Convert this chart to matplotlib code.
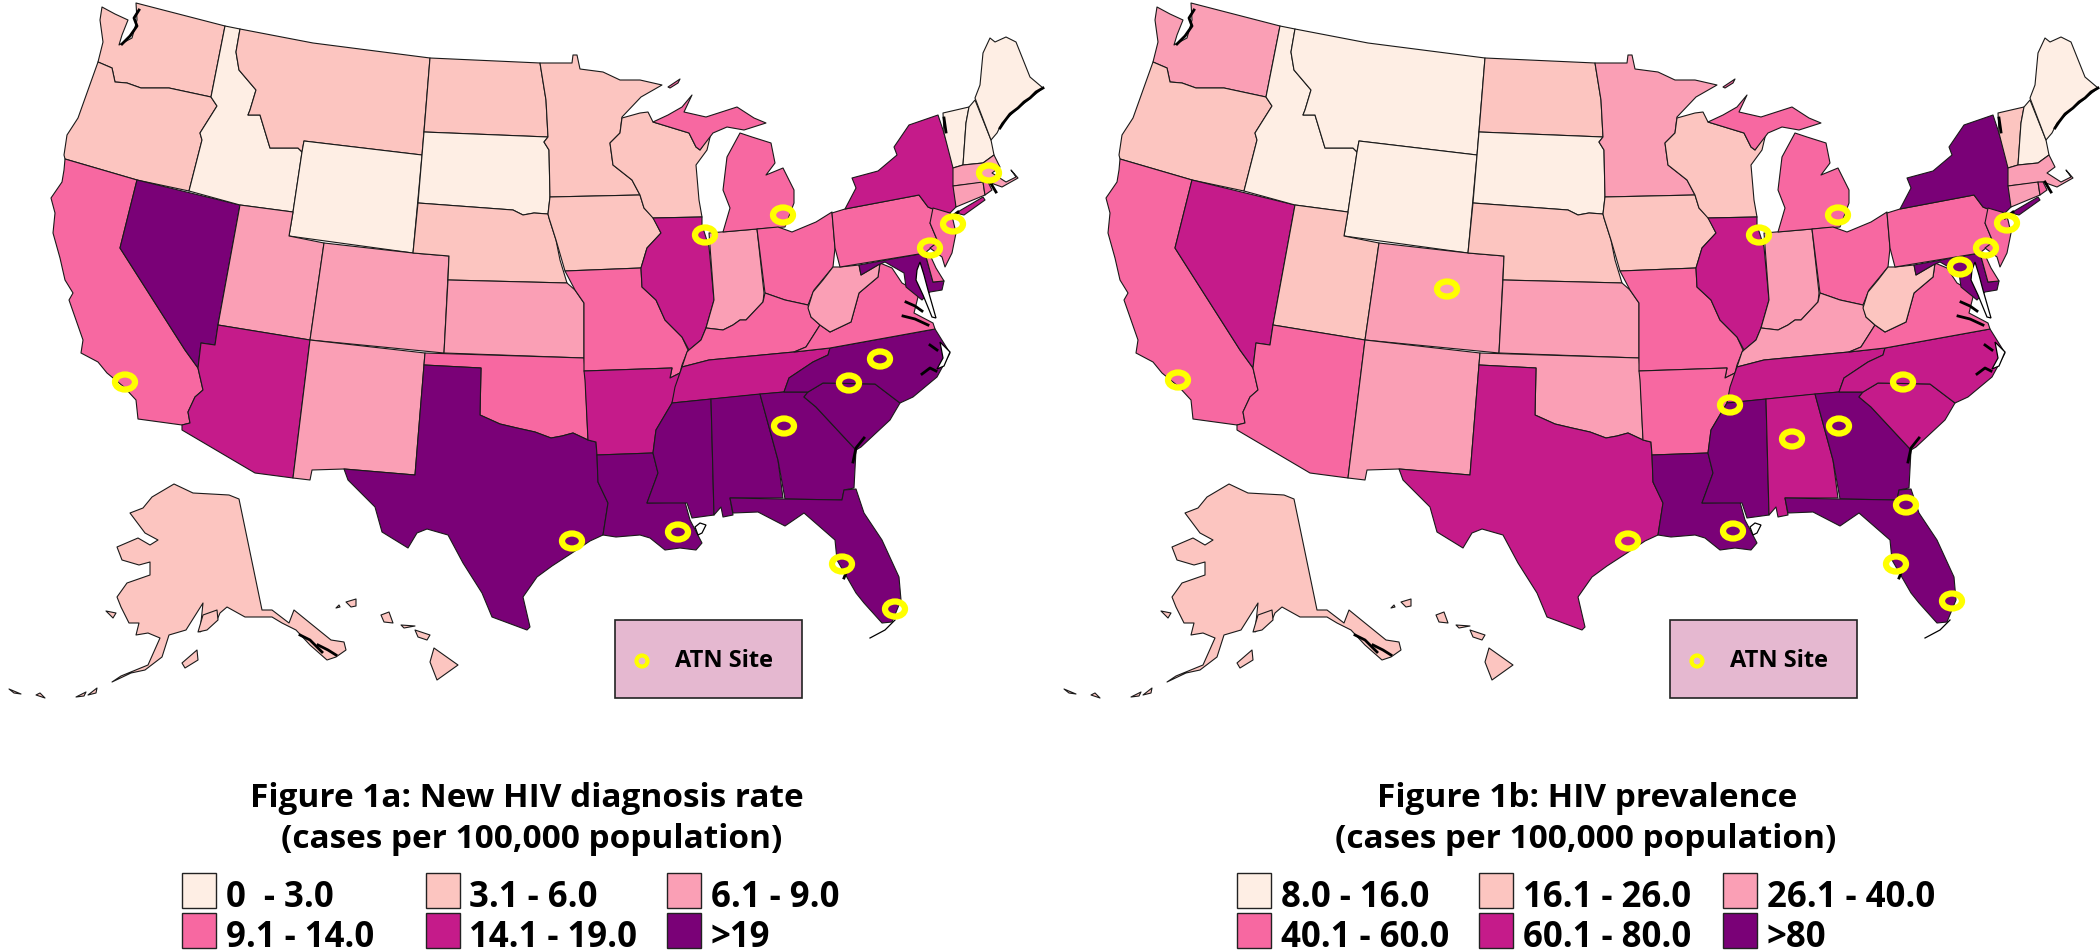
import matplotlib
matplotlib.use("Agg")
import matplotlib.pyplot as plt
from matplotlib.patches import Polygon, Rectangle, Ellipse

# RdPu style classes used by both maps
class_colors = ["#FEEEE4", "#FCC5C0", "#FA9FB5", "#F768A1", "#C51B8A", "#7A0177"]

# State outlines in picture pixels
WA = [(102,7),(115,14),(128,20),(122,35),(119,45),(132,38),(137,20),(136,3),(225,26),(211,97),(169,88),(141,88),(127,83),(115,82),(112,68),(98,62),(103,42),(100,20)]
OR = [(98,62),(112,68),(115,82),(127,83),(141,88),(169,88),(211,97),(217,106),(200,133),(202,140),(189,191),(137,180),(65,159),(64,155),(67,135),(78,118),(88,90)]
CA = [(65,159),(137,180),(120,248),(185,350),(198,368),(203,390),(195,397),(188,412),(190,423),(182,425),(138,419),(136,400),(124,387),(107,373),(98,362),(81,353),(83,340),(69,300),(73,293),(65,280),(60,258),(53,233),(55,213),(51,198),(62,182),(64,170)]
NV = [(137,180),(240,205),(218,325),(215,345),(201,343),(198,368),(185,350),(120,248)]
ID = [(225,26),(240,29),(236,52),(239,70),(256,90),(250,110),(248,115),(260,115),(270,148),(298,148),(302,152),(293,212),(240,205),(189,191),(202,140),(200,133),(217,106),(211,97)]
MT = [(240,29),(313,43),(430,58),(422,155),(304,141),(302,152),(298,148),(270,148),(260,115),(248,115),(250,110),(256,90),(239,70),(236,52)]
WY = [(304,141),(422,155),(413,253),(289,236),(293,212),(302,152)]
UT = [(240,205),(293,212),(289,236),(324,243),(310,340),(218,325)]
CO = [(324,243),(413,253),(449,256),(444,353),(310,340)]
AZ = [(218,325),(310,340),(293,478),(255,473),(182,430),(182,425),(190,423),(188,412),(195,397),(203,390),(198,368),(201,343),(215,345)]
NM = [(310,340),(425,353),(424,365),(415,475),(344,469),(312,470),(310,480),(293,478)]
ND = [(430,58),(540,63),(546,100),(548,137),(424,132)]
SD = [(424,132),(548,137),(544,142),(549,150),(550,197),(548,214),(534,213),(523,215),(513,210),(418,203)]
NE = [(418,203),(513,210),(523,215),(534,213),(548,214),(549,218),(556,240),(560,260),(567,283),(448,280),(449,256),(413,253)]
KS = [(448,280),(567,283),(575,290),(584,303),(584,358),(444,353)]
OK = [(425,353),(584,358),(585,370),(588,440),(573,433),(562,436),(551,438),(535,432),(517,428),(500,424),(480,415),(481,368),(424,365)]
TX = [(424,365),(481,368),(480,415),(500,424),(517,428),(535,432),(551,438),(562,436),(573,433),(588,440),(596,442),(597,455),(598,482),(608,503),(603,535),(590,541),(572,553),(552,566),(537,577),(523,597),(530,627),(527,630),(492,617),(482,593),(463,563),(448,535),(427,529),(417,533),(408,548),(382,532),(375,507),(348,480),(344,469),(415,475)]
MN = [(540,63),(572,63),(573,55),(577,55),(580,69),(603,72),(620,80),(640,80),(662,85),(641,97),(622,117),(620,133),(610,143),(613,165),(632,180),(640,195),(550,197),(549,150),(544,142),(548,137),(546,100)]
IA = [(550,197),(640,195),(644,208),(653,217),(661,233),(647,248),(641,268),(565,271),(556,240),(549,218),(548,214)]
MO = [(565,271),(641,268),(642,287),(656,300),(665,320),(682,337),(688,350),(682,365),(680,373),(670,378),(672,368),(584,371),(584,303),(575,290)]
AR = [(584,371),(672,368),(670,378),(680,373),(672,403),(656,430),(653,453),(597,455),(596,442),(588,440),(585,380)]
LA = [(597,455),(653,453),(658,473),(647,503),(685,502),(690,520),(702,543),(696,550),(680,548),(665,550),(650,538),(640,535),(616,537),(603,535),(608,503),(598,482)]
WI = [(622,118),(640,113),(648,112),(653,122),(689,133),(696,147),(700,150),(711,133),(707,150),(696,165),(699,200),(702,217),(653,218),(644,208),(640,195),(632,180),(613,165),(610,143),(620,133)]
IL = [(653,218),(702,217),(702,225),(709,247),(714,300),(706,328),(701,340),(689,350),(682,337),(665,320),(656,300),(642,287),(641,268),(647,248),(661,233)]
IN = [(709,233),(757,229),(764,293),(763,302),(746,320),(740,320),(733,325),(723,330),(706,328),(714,300)]
MI = [(723,232),(730,208),(723,190),(727,157),(740,133),(752,137),(771,143),(775,163),(766,175),(783,168),(794,190),(794,203),(785,227),(757,229)]
UP = [(653,122),(668,115),(682,107),(692,95),(684,112),(706,117),(737,107),(754,118),(766,123),(744,130),(727,127),(713,133),(700,150),(696,147),(689,133)]
OH = [(757,229),(778,227),(792,232),(816,222),(832,212),(835,248),(833,267),(814,290),(808,305),(785,300),(765,293)]
KY = [(706,328),(723,330),(733,325),(740,320),(746,320),(763,302),(765,293),(785,300),(808,305),(811,317),(820,325),(806,347),(794,352),(709,360),(682,367),(687,352),(689,350),(701,340)]
TN = [(682,367),(709,360),(794,352),(830,348),(828,355),(813,362),(789,378),(784,392),(672,403),(675,387)]
MS = [(672,403),(711,399),(714,515),(692,518),(687,503),(647,503),(658,473),(653,453),(656,430)]
AL = [(711,399),(760,394),(778,460),(783,498),(730,498),(733,515),(723,517),(721,507),(714,515)]
GA = [(760,394),(784,392),(808,392),(804,397),(816,407),(856,450),(854,488),(844,490),(842,500),(785,499),(778,460)]
FL = [(730,498),(783,499),(842,500),(844,490),(856,489),(864,513),(882,540),(899,577),(901,600),(892,622),(882,623),(864,603),(856,593),(837,560),(835,540),(804,513),(785,526),(758,512),(733,513)]
SC = [(808,392),(823,383),(875,384),(900,403),(890,420),(861,447),(856,450),(816,407),(804,397)]
NC = [(830,348),(935,329),(950,353),(937,377),(913,397),(900,403),(875,384),(823,383),(808,392),(784,392),(789,378),(813,362),(828,355)]
VA = [(794,352),(806,347),(820,325),(830,332),(851,322),(859,293),(878,277),(880,263),(892,268),(902,283),(919,293),(914,313),(933,323),(935,329),(830,348)]
WV = [(808,308),(813,292),(823,280),(833,267),(840,267),(859,265),(861,275),(878,265),(880,263),(878,277),(859,293),(851,322),(830,332),(820,325),(811,317)]
MD = [(859,265),(925,253),(933,282),(944,281),(942,290),(930,292),(922,300),(906,287),(904,273),(885,262),(878,265),(861,275)]
DE = [(925,253),(930,255),(936,268),(944,281),(933,282)]
PA = [(832,213),(845,209),(919,195),(928,207),(940,212),(950,213),(930,223),(938,242),(925,253),(840,267),(835,248)]
NY = [(845,209),(856,188),(852,178),(878,171),(897,155),(894,147),(909,125),(938,115),(944,133),(954,167),(956,207),(950,213),(940,212),(928,207),(919,195)]
LI = [(956,213),(983,197),(985,200),(964,215)]
NJ = [(933,208),(950,213),(953,220),(956,233),(952,253),(945,267),(942,257),(930,248),(938,242),(930,223)]
VT = [(943,113),(969,107),(966,123),(963,165),(953,168),(944,133)]
NH = [(969,107),(975,100),(991,140),(994,155),(983,163),(963,165),(966,123)]
ME = [(975,98),(980,85),(983,53),(990,38),(995,42),(1006,37),(1016,42),(1030,77),(1043,88),(1016,110),(1002,123),(997,133),(991,140)]
MA = [(953,168),(963,165),(983,163),(994,155),(1000,167),(992,173),(1006,182),(1016,177),(1011,170),(1018,178),(1002,187),(988,182),(953,186)]
CT = [(953,186),(983,182),(985,195),(956,207)]
RI = [(983,182),(988,182),(992,190),(985,195)]
AK = [(174,484),(193,493),(229,495),(239,499),(262,610),(272,610),(289,623),(294,610),(310,623),(331,640),(344,642),(346,650),(336,657),(327,660),(310,645),(296,630),(282,623),(272,617),(245,617),(227,607),(220,613),(217,620),(200,632),(203,603),(186,630),(169,635),(162,657),(145,670),(131,673),(112,682),(121,676),(148,665),(160,638),(148,633),(136,635),(139,623),(129,623),(121,607),(117,597),(127,583),(150,575),(150,562),(139,565),(122,560),(117,547),(138,538),(150,545),(158,540),(145,533),(130,513),(143,508),(152,497)]
KODIAK = [(198,632),(203,615),(217,610),(218,620),(207,630)]
NUNIVAK = [(106,611),(116,613),(113,618)]
AFOGNAK = [(182,663),(197,650),(198,660),(185,668)]
ALEUT_1 = [(76,697),(86,692),(84,696)]
ALEUT_2 = [(88,695),(97,688),(96,693)]
ALEUT_3 = [(36,695),(40,693),(45,698)]
ALEUT_4 = [(9,689),(21,694),(14,693)]
ISLE_ROYALE = [(668,87),(680,79),(678,83),(670,88)]
HI_BIG = [(434,648),(458,665),(437,680),(430,662)]
HI_MAUI = [(415,630),(430,635),(427,640),(418,637)]
HI_MOLOKAI = [(401,625),(415,626),(404,628)]
HI_OAHU = [(381,615),(389,612),(393,623),(384,622)]
HI_KAUAI = [(346,602),(356,599),(356,606),(351,607)]
HI_NIIHAU = [(336,608),(339,605),(340,607)]

state_shapes = {
    "WA": [WA], "OR": [OR], "CA": [CA], "NV": [NV], "ID": [ID], "MT": [MT], "WY": [WY], "UT": [UT],
    "CO": [CO], "AZ": [AZ], "NM": [NM], "ND": [ND], "SD": [SD], "NE": [NE], "KS": [KS], "OK": [OK],
    "TX": [TX], "MN": [MN], "IA": [IA], "MO": [MO], "AR": [AR], "LA": [LA], "WI": [WI], "IL": [IL],
    "IN": [IN], "MI": [MI, UP, ISLE_ROYALE], "OH": [OH], "KY": [KY], "TN": [TN], "MS": [MS], "AL": [AL],
    "GA": [GA], "FL": [FL], "SC": [SC], "NC": [NC], "VA": [VA], "WV": [WV], "MD": [MD], "DE": [DE],
    "PA": [PA], "NY": [NY, LI], "NJ": [NJ], "VT": [VT], "NH": [NH], "ME": [ME], "MA": [MA], "CT": [CT],
    "RI": [RI], "AK": [AK, KODIAK, NUNIVAK, AFOGNAK, ALEUT_1, ALEUT_2, ALEUT_3, ALEUT_4],
    "HI": [HI_BIG, HI_MAUI, HI_MOLOKAI, HI_OAHU, HI_KAUAI, HI_NIIHAU],
}

# Class index per state (0 lightest .. 5 darkest)
rates_a = {"WA":1,"OR":1,"CA":3,"NV":5,"ID":0,"MT":1,"WY":0,"UT":2,"CO":2,"AZ":4,"NM":2,"ND":1,"SD":0,"NE":1,"KS":2,"OK":3,
           "TX":5,"MN":1,"IA":1,"MO":3,"AR":4,"LA":5,"WI":1,"IL":4,"IN":2,"MI":3,"OH":3,"KY":3,"TN":4,"MS":5,"AL":5,
           "GA":5,"FL":5,"SC":5,"NC":5,"VA":3,"WV":2,"MD":5,"DE":3,"PA":3,"NY":4,"NJ":3,"VT":0,"NH":0,"ME":0,"MA":2,
           "CT":2,"RI":3,"AK":1,"HI":1}
rates_b = {"WA":2,"OR":1,"CA":3,"NV":4,"ID":0,"MT":0,"WY":0,"UT":1,"CO":2,"AZ":3,"NM":2,"ND":1,"SD":0,"NE":1,"KS":2,"OK":2,
           "TX":4,"MN":2,"IA":1,"MO":3,"AR":3,"LA":5,"WI":1,"IL":4,"IN":2,"MI":3,"OH":3,"KY":2,"TN":4,"MS":5,"AL":4,
           "GA":5,"FL":5,"SC":4,"NC":4,"VA":3,"WV":1,"MD":5,"DE":3,"PA":3,"NY":5,"NJ":3,"VT":1,"NH":0,"ME":0,"MA":2,
           "CT":2,"RI":3,"AK":1,"HI":1}

# ATN site locations in picture pixels
sites_a = [(125,382),(572,541),(678,532),(784,426),(842,564),(895,609),(849,383),(880,359),(705,235),(783,215),(930,248),(953,224),(989,173)]
sites_b = [(1178,380),(1447,289),(1628,541),(1733,531),(1730,405),(1792,439),(1839,426),(1903,382),(1906,505),(1896,564),(1952,601),(1960,267),(1759,235),(1838,215),(1986,248),(2007,223)]

labels_a = ["0  - 3.0", "3.1 - 6.0", "6.1 - 9.0", "9.1 - 14.0", "14.1 - 19.0", ">19"]
labels_b = ["8.0 - 16.0", "16.1 - 26.0", "26.1 - 40.0", "40.1 - 60.0", "60.1 - 80.0", ">80"]
title_a = ["Figure 1a: New HIV diagnosis rate", "(cases per 100,000 population)"]
title_b = ["Figure 1b: HIV prevalence", "(cases per 100,000 population)"]

# Bays and sounds left white on the map
water = [
    [(920,262),(924,275),(928,290),(936,318),(932,317),(923,295),(916,280),(917,270)],
    [(940,342),(950,352),(944,366),(937,369),(943,358)],
    [(695,527),(700,523),(706,525),(702,533),(698,535)],
]
# Dark jagged coast bits
coast_marks = [
    [(139,10),(134,18),(137,26),(130,36),(122,44)],
    [(1043,88),(1036,92),(1030,98),(1024,102),(1018,108),(1010,114),(1004,122),(1000,128)],
    [(944,118),(946,132)],
    [(906,302),(915,306),(922,311)],
    [(903,316),(915,319),(928,325)],
    [(930,345),(937,350)],
    [(922,374),(930,368),(936,371)],
    [(864,438),(856,448),(853,462)],
    [(990,182),(996,192)],
    [(958,212),(950,218)],
    [(300,635),(310,640),(322,652)],
    [(318,645),(328,650),(336,655)],
    [(848,568),(844,578)],
]
keys_line = [(895,620),(885,630),(870,638)]

FONT = ["Open Sans", "Liberation Sans"]


def draw_panel(ax, classes, sites, dx, title, title_x, labels, swatch_x, text_x):
    for state, parts in state_shapes.items():
        for part in parts:
            pts = [(x + dx, y) for x, y in part]
            ax.add_patch(Polygon(pts, closed=True, facecolor=class_colors[classes[state]],
                                 edgecolor="#1a1a1a", linewidth=0.8, joinstyle="round"))
    for shape in water:
        ax.add_patch(Polygon([(x + dx, y) for x, y in shape], closed=True, facecolor="white",
                             edgecolor="black", linewidth=0.9))
    for mark in coast_marks:
        ax.plot([p[0] + dx for p in mark], [p[1] for p in mark], color="black", lw=2.0)
    ax.plot([p[0] + dx for p in keys_line], [p[1] for p in keys_line], color="black", lw=0.9)

    for x, y in sites:
        ax.add_patch(Ellipse((x, y), 20, 15, facecolor="none", edgecolor="#FFFF00", linewidth=4.5, zorder=5))

    # ATN site key
    ax.add_patch(Rectangle((615 + dx, 620), 187, 78, facecolor="#E5B8D0", edgecolor="#222222", linewidth=1.2))
    ax.add_patch(Ellipse((642 + dx, 661), 11, 11, facecolor="none", edgecolor="#FFFF00", linewidth=3.0))
    ax.text(675 + dx, 667, "ATN Site", family=FONT, fontweight="bold", fontsize=17, va="baseline", ha="left")

    ax.text(title_x[0], 807, title[0], family=FONT, fontweight="bold", fontsize=24, ha="center", va="baseline")
    ax.text(title_x[1], 848, title[1], family=FONT, fontweight="bold", fontsize=24, ha="center", va="baseline")

    for i, label in enumerate(labels):
        col, row = i % 3, i // 3
        top = 873 + row * 40
        ax.add_patch(Rectangle((swatch_x[col], top), 34, 35, facecolor=class_colors[i], edgecolor="#222222", linewidth=1.0))
        ax.text(text_x[col], 907 + row * 40, label, family=FONT, fontweight="bold", fontsize=25, ha="left", va="baseline")


fig = plt.figure(figsize=(21, 9.52), dpi=100)
ax = fig.add_axes([0, 0, 1, 1])
ax.set_xlim(0, 2100)
ax.set_ylim(952, 0)
ax.axis("off")

draw_panel(ax, rates_a, sites_a, 0, title_a, [527, 532], labels_a, [182, 426, 667], [226, 469, 711])
draw_panel(ax, rates_b, sites_b, 1055, title_b, [1587, 1586], labels_b, [1237, 1479, 1723], [1281, 1523, 1767])

fig.savefig("out.png", dpi=100)
